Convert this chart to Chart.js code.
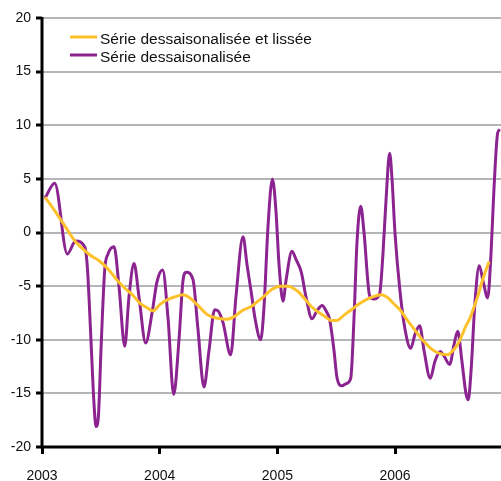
<!DOCTYPE html>
<html>
<head>
<meta charset="utf-8">
<script src="https://cdn.jsdelivr.net/npm/chart.js@4/dist/chart.umd.min.js"></script>
<style>
  html, body { margin: 0; padding: 0; background: #fff; }
  #wrap { width: 501px; height: 481px; }
</style>
</head>
<body>
<div id="wrap"><canvas id="myChart" width="501" height="481"></canvas></div>
<script>
// series labels
const seriesNames = ["Série dessaisonalisée et lissée", "Série dessaisonalisée"];

// year ticks on the x axis
const yearTicks = [2003, 2004, 2005, 2006];
const yTicks = [20, 15, 10, 5, 0, -5, -10, -15, -20];

// smoothed series (decimal year, value)
const smoothDates = [2003.025, 2003.110, 2003.195, 2003.280, 2003.323, 2003.408, 2003.493, 2003.561,
  2003.635, 2003.705, 2003.776, 2003.833, 2003.890, 2003.943, 2004.003, 2004.059, 2004.130, 2004.198,
  2004.257, 2004.325, 2004.410, 2004.495, 2004.569, 2004.640, 2004.699, 2004.778, 2004.835, 2004.892,
  2004.954, 2005.022, 2005.090, 2005.175, 2005.234, 2005.288, 2005.345, 2005.402, 2005.455, 2005.506,
  2005.566, 2005.617, 2005.702, 2005.787, 2005.884, 2005.940, 2005.985, 2006.042, 2006.099, 2006.169,
  2006.240, 2006.314, 2006.381, 2006.447, 2006.483, 2006.522, 2006.560, 2006.602, 2006.636, 2006.673,
  2006.704, 2006.744, 2006.772, 2006.800];
const smoothValues = [3.3, 2.0, 0.6, -0.8, -1.3, -2.1, -2.7, -3.4,
  -4.4, -5.2, -5.9, -6.6, -7.0, -7.3, -6.7, -6.3, -6.0, -5.8,
  -6.1, -6.8, -7.7, -8.0, -8.1, -7.8, -7.3, -6.9, -6.4, -5.9,
  -5.3, -5.0, -5.0, -5.5, -6.2, -6.9, -7.4, -7.8, -8.2, -8.2,
  -7.7, -7.3, -6.6, -6.1, -5.8, -6.1, -6.6, -7.2, -8.1, -9.1,
  -10.1, -10.9, -11.3, -11.4, -11.1, -10.6, -9.8, -8.7, -8.0, -6.9,
  -5.9, -4.4, -3.5, -2.7];

// raw seasonally adjusted series (decimal year, value)
const rawDates = [2003.025, 2003.108, 2003.215, 2003.286, 2003.365, 2003.387, 2003.416, 2003.442,
  2003.459, 2003.480, 2003.501, 2003.533, 2003.561, 2003.612, 2003.654, 2003.703, 2003.739, 2003.782,
  2003.824, 2003.881, 2003.935, 2003.977, 2004.025, 2004.071, 2004.119, 2004.164, 2004.198, 2004.226,
  2004.283, 2004.325, 2004.376, 2004.419, 2004.467, 2004.495, 2004.538, 2004.603, 2004.648, 2004.708,
  2004.742, 2004.778, 2004.810, 2004.858, 2004.886, 2004.920, 2004.958, 2004.988, 2005.014, 2005.048,
  2005.073, 2005.124, 2005.158, 2005.203, 2005.243, 2005.294, 2005.336, 2005.381, 2005.413, 2005.444,
  2005.481, 2005.506, 2005.549, 2005.583, 2005.623, 2005.651, 2005.676, 2005.708, 2005.736, 2005.784,
  2005.821, 2005.869, 2005.897, 2005.923, 2005.954, 2005.974, 2005.999, 2006.042, 2006.084, 2006.133,
  2006.169, 2006.209, 2006.246, 2006.299, 2006.339, 2006.384, 2006.415, 2006.464, 2006.500, 2006.532,
  2006.568, 2006.602, 2006.622, 2006.645, 2006.679, 2006.715, 2006.747, 2006.787, 2006.815, 2006.840,
  2006.872, 2006.891];
const rawValues = [3.2, 4.6, -2.0, -0.8, -1.4, -3.5, -10, -16,
  -18.1, -17, -11, -3.45, -2, -1.33, -5, -10.6, -6, -2.9,
  -6, -10.3, -7.5, -4.6, -3.5, -8, -15.1, -10, -4.5, -3.7,
  -4.4, -9, -14.4, -11, -7.2, -7.3, -8.4, -11.4, -6, -0.4,
  -3, -5.6, -8, -10.0, -7, 0.5, 5.0, 2, -3, -6.4,
  -4.5, -1.75, -2.5, -3.7, -6, -8.05, -7.3, -6.8, -7.3, -8.1,
  -11, -13.5, -14.3, -14.1, -13.6, -8, -1, 2.45, 0, -5.9,
  -6.2, -5.7, -2, 3, 7.4, 5, 0, -5.5, -9, -10.8,
  -9.5, -8.7, -11, -13.6, -12, -11.1, -11.5, -12.3, -10.5, -9.2,
  -12, -15, -15.6, -13, -6.5, -3.1, -4.5, -6.1, -2, 4,
  9.3, 9.6];

const colors = ["#FDC12C", "#8B2490"];
const font = "Liberation Sans, Arial, sans-serif";

function ToPoints(xs, ys) {
  return xs.map((x, i) => ({ x: x, y: ys[i] }));
}

// thick black axes, drawn over the grey grid
const blackAxes = {
  id: "blackAxes",
  beforeDatasetsDraw(chart) {
    const a = chart.chartArea;
    const ctx = chart.ctx;
    ctx.save();
    ctx.strokeStyle = "#000";
    ctx.lineWidth = 3;
    ctx.beginPath();
    ctx.moveTo(a.left, a.top - 1);
    ctx.lineTo(a.left, a.bottom);
    ctx.lineTo(a.right, a.bottom);
    ctx.stroke();
    ctx.restore();
  }
};

// legend drawn inside the plot, top left
const insideLegend = {
  id: "insideLegend",
  afterDraw(chart) {
    const ctx = chart.ctx;
    ctx.save();
    ctx.font = "15.5px " + font;
    ctx.fillStyle = "#111";
    ctx.textBaseline = "alphabetic";
    seriesNames.forEach((name, i) => {
      const y = 37 + i * 18;
      ctx.strokeStyle = colors[i];
      ctx.lineWidth = 3;
      ctx.beginPath();
      ctx.moveTo(70, y);
      ctx.lineTo(97, y);
      ctx.stroke();
      ctx.fillText(name, 100, y + 7);
    });
    ctx.restore();
  }
};

function CreateChart() {
  const ctx = document.getElementById("myChart");
  return new Chart(ctx, {
    type: "line",
    data: {
      datasets: [
        {
          label: seriesNames[0],
          data: ToPoints(smoothDates, smoothValues),
          borderColor: colors[0],
          borderWidth: 3,
          pointRadius: 0,
          cubicInterpolationMode: "monotone",
          fill: false
        },
        {
          label: seriesNames[1],
          data: ToPoints(rawDates, rawValues),
          borderColor: colors[1],
          borderWidth: 3,
          pointRadius: 0,
          cubicInterpolationMode: "monotone",
          fill: false
        }
      ]
    },
    options: {
      responsive: false,
      animation: false,
      layout: { padding: { top: 18, right: 0, left: 0, bottom: 0 } },
      plugins: { legend: { display: false }, tooltip: { enabled: false } },
      scales: {
        x: {
          type: "linear",
          min: 2003,
          max: 2006.9,
          afterBuildTicks: (scale) => { scale.ticks = yearTicks.map(v => ({ value: v })); },
          afterFit: (scale) => { scale.height = 34; },
          ticks: {
            font: { family: font, size: 14 },
            color: "#111",
            padding: 14,
            maxRotation: 0,
            callback: (v) => String(v)
          },
          grid: {
            drawOnChartArea: false,
            drawTicks: true,
            tickLength: 7,
            tickColor: "#000",
            tickWidth: 3
          },
          border: { display: false }
        },
        y: {
          min: -20,
          max: 20,
          afterBuildTicks: (scale) => { scale.ticks = yTicks.map(v => ({ value: v })); },
          afterFit: (scale) => { scale.width = 42; },
          ticks: {
            font: { family: font, size: 14 },
            color: "#111",
            padding: 5
          },
          grid: {
            color: "#B4B6B9",
            lineWidth: 2,
            drawTicks: true,
            tickLength: 6,
            tickColor: "#000",
            tickWidth: 3
          },
          border: { display: false }
        }
      }
    },
    plugins: [blackAxes, insideLegend]
  });
}

CreateChart();
</script>
</body>
</html>
